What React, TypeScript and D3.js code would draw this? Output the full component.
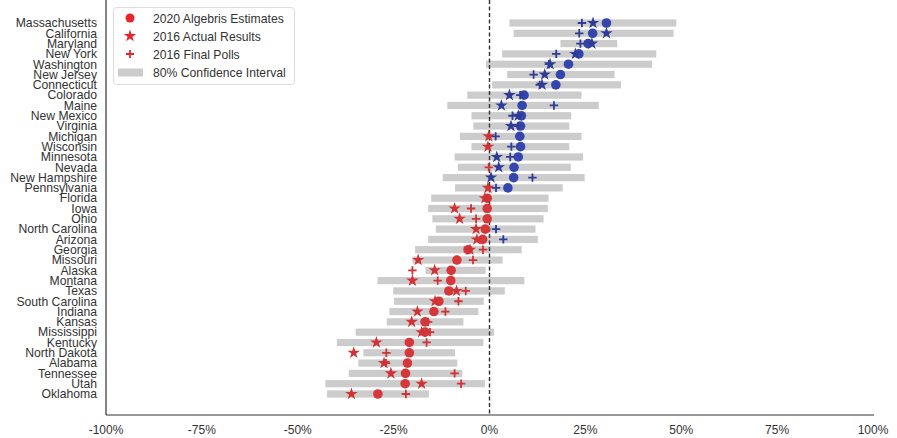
import React from "react";
import * as d3 from "d3";

const states = ["Massachusetts","California","Maryland","New York","Washington","New Jersey","Connecticut","Colorado","Maine","New Mexico","Virginia","Michigan","Wisconsin","Minnesota","Nevada","New Hampshire","Pennsylvania","Florida","Iowa","Ohio","North Carolina","Arizona","Georgia","Missouri","Alaska","Montana","Texas","South Carolina","Indiana","Kansas","Mississippi","Kentucky","North Dakota","Alabama","Tennessee","Utah","Oklahoma"];
const estimates2020 = [30.5,26.9,25.7,23.3,20.6,18.5,17.3,9.0,8.5,8.3,8.1,7.9,8.1,7.5,6.4,6.3,4.8,-0.6,-0.6,-0.6,-1.1,-1.8,-5.6,-8.5,-10.0,-10.1,-10.6,-13.2,-14.5,-16.8,-16.8,-20.9,-20.9,-21.4,-21.9,-22.0,-29.1];
const actual2016 = [27.0,30.5,26.7,22.4,15.8,14.4,13.7,5.2,3.1,7.5,5.6,-0.2,-0.4,1.9,2.4,0.4,-0.4,-1.2,-9.1,-7.8,-3.5,-3.3,-5.1,-18.6,-14.3,-20.1,-8.6,-14.2,-18.8,-20.3,-17.7,-29.5,-35.4,-27.5,-25.7,-17.7,-36.0];
const polls2016 = [24.1,23.4,23.7,17.4,15.5,11.5,13.1,8.0,16.8,6.0,7.5,1.6,5.7,5.4,-0.2,11.2,1.7,-0.5,-4.8,-3.5,1.7,3.6,-1.7,-4.3,-20.1,-13.5,-6.2,-8.1,-11.5,-16.0,-15.5,-16.4,-26.9,-27.0,-9.1,-7.4,-21.8];
const ciLow = [5.2,6.3,18.5,3.3,-0.9,4.6,0.7,-5.8,-11.0,-4.7,-4.2,-7.7,-4.7,-9.1,-8.2,-12.2,-9.0,-15.2,-16.0,-14.9,-14.0,-16.0,-19.4,-20.1,-16.7,-29.2,-25.1,-24.9,-26.1,-26.8,-34.9,-39.8,-32.9,-34.2,-36.7,-42.8,-42.4];
const ciHigh = [48.7,48.0,33.3,43.5,42.4,32.6,34.3,24.0,28.5,21.3,20.8,24.0,20.8,24.4,21.2,24.8,19.1,15.4,15.2,14.1,12.0,12.6,8.4,3.4,-1.0,9.1,4.0,-1.5,-2.9,-6.8,1.2,-1.6,-9.0,-8.4,-7.1,-1.2,-15.8];
const xTicks = [-100,-75,-50,-25,0,25,50,75,100];
const legendLabels = ["2020 Algebris Estimates","2016 Actual Results","2016 Final Polls","80% Confidence Interval"];

const W = 897, H = 438;
const FONT = "Liberation Sans, Arial, sans-serif";
const BLUE = "#3446ad";
const BLUE_D = "#2e3c96";
const RED = "#d6373a";
const RED_D = "#d03236";
const GRAY = "#cccccc";

export default function App() {
  const x = d3.scaleLinear().domain([-100, 100]).range([106, 873]);
  const y = d3.scaleLinear().domain([0, states.length - 1]).range([23, 394]);
  const axisY = 415;
  const star = d3.symbol().type(d3.symbolStar).size(48)() as string;
  const plusPath = (s: number) => `M${-s},0H${s}M0,${-s}V${s}`;
  const col = (v: number, dark: boolean) => (v >= 0 ? (dark ? BLUE_D : BLUE) : (dark ? RED_D : RED));

  return (
    <svg width={W} height={H} style={{ position: "absolute", left: 0, top: 0, background: "#fff" }} fontFamily={FONT}>
      {/* bars */}
      {states.map((s, i) => (
        <rect key={"b" + s} x={x(ciLow[i])} y={y(i) - 3.6} width={x(ciHigh[i]) - x(ciLow[i])} height={7.2} fill={GRAY} />
      ))}
      {/* zero line */}
      <line x1={x(0)} x2={x(0)} y1={0} y2={axisY} stroke="#333" strokeWidth={1.4} strokeDasharray="4,2.5" />
      {/* circles */}
      {states.map((s, i) => (
        <circle key={"c" + s} cx={x(estimates2020[i])} cy={y(i)} r={4.8} fill={col(estimates2020[i], false)} />
      ))}
      {/* stars */}
      {states.map((s, i) => (
        <path key={"s" + s} d={star} transform={`translate(${x(actual2016[i])},${y(i)})`} fill={col(actual2016[i], true)} />
      ))}
      {/* plus */}
      {states.map((s, i) => (
        <path key={"p" + s} d={plusPath(4.2)} transform={`translate(${x(polls2016[i])},${y(i)})`} stroke={col(polls2016[i], true)} strokeWidth={1.8} fill="none" />
      ))}
      {/* axes */}
      <line x1={106} x2={106} y1={0} y2={axisY} stroke="#333" strokeWidth={1.2} />
      <line x1={106} x2={874} y1={axisY} y2={axisY} stroke="#333" strokeWidth={1.2} />
      {xTicks.map((t) => (
        <text key={"t" + t} x={x(t)} y={434} textAnchor="middle" fontSize={12} fill="#333">{t + "%"}</text>
      ))}
      {states.map((s, i) => (
        <text key={"l" + s} x={97} y={y(i) + 4.3} textAnchor="end" fontSize={12.2} fill="#333">{s}</text>
      ))}
      {/* legend */}
      <g>
        <rect x={113.5} y={7.5} width={181} height={77} rx={3} fill="#fff" fillOpacity={0.85} stroke="#dddddd" />
        {legendLabels.map((l, i) => (
          <text key={"lg" + l} x={153} y={22.5 + i * 18} fontSize={12.2} fill="#333">{l}</text>
        ))}
        <circle cx={130} cy={18} r={4.5} fill="#e8262a" />
        <path d={star} transform="translate(130,36)" fill="#e8262a" />
        <path d={plusPath(4)} transform="translate(130,54)" stroke="#e8262a" strokeWidth={1.8} fill="none" />
        <rect x={118} y={68.5} width={25} height={8} fill={GRAY} />
      </g>
    </svg>
  );
}
